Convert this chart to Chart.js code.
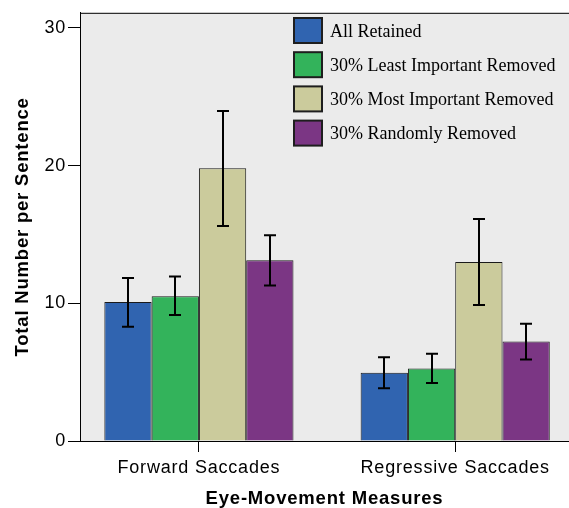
<!DOCTYPE html>
<html>
<head>
<meta charset="utf-8">
<script src="https://cdn.jsdelivr.net/npm/chart.js@4"></script>
<style>
  html, body { margin: 0; padding: 0; background: #fff; }
</style>
</head>
<body>
<canvas id="chart" width="569" height="508"></canvas>
<script>
// values
const categories = ["Forward Saccades", "Regressive Saccades"];
const seriesNames = ["All Retained", "30% Least Important Removed", "30% Most Important Removed", "30% Randomly Removed"];
const allRetained = [10.09, 4.96];
const leastRemoved = [10.52, 5.27];
const mostRemoved = [19.81, 13.0];
const randomRemoved = [13.12, 7.22];
// error bars: [low, high] per category
const allRetainedErr = [[8.30, 11.84], [3.83, 6.09]];
const leastRemovedErr = [[9.15, 11.94], [4.21, 6.33]];
const mostRemovedErr = [[15.62, 23.97], [9.87, 16.12]];
const randomRemovedErr = [[11.29, 14.95], [5.92, 8.52]];
const yTicks = [0, 10, 20, 30];
const colors = ["#3064b0", "#33b35b", "#cbcb9c", "#7b3684"];

const values = [allRetained, leastRemoved, mostRemoved, randomRemoved];
const errors = [allRetainedErr, leastRemovedErr, mostRemovedErr, randomRemovedErr];

Chart.defaults.font.family = "'Liberation Sans', Arial, sans-serif";
Chart.defaults.color = "#000";

const spacing = {
  id: "spacing",
  beforeLayout(chart) { chart.ctx.letterSpacing = "0.8px"; },
  beforeDraw(chart) { chart.ctx.letterSpacing = "0.8px"; }
};

const plotBg = {
  id: "plotBg",
  beforeDraw(chart) {
    const { ctx, chartArea: a } = chart;
    ctx.save();
    ctx.fillStyle = "#ebebeb";
    ctx.fillRect(a.left, a.top, a.right - a.left, a.bottom - a.top);
    ctx.restore();
  },
  afterDraw(chart) {
    const { ctx, chartArea: a } = chart;
    ctx.save();
    ctx.strokeStyle = "#000";
    ctx.lineWidth = 1;
    ctx.beginPath();
    ctx.moveTo(a.left, a.top + 0.5);
    ctx.lineTo(a.right, a.top + 0.5);
    ctx.stroke();
    ctx.restore();
  }
};

const errorBars = {
  id: "errorBars",
  afterDatasetsDraw(chart) {
    const { ctx } = chart;
    const y = chart.scales.y;
    ctx.save();
    ctx.strokeStyle = "#000";
    ctx.lineWidth = 2;
    chart.data.datasets.forEach((ds, i) => {
      chart.getDatasetMeta(i).data.forEach((bar, j) => {
        const [lo, hi] = errors[i][j];
        const x = Math.round(bar.x);
        const yl = y.getPixelForValue(lo), yh = y.getPixelForValue(hi);
        ctx.beginPath();
        ctx.moveTo(x, yl); ctx.lineTo(x, yh);
        ctx.moveTo(x - 6, yl); ctx.lineTo(x + 6, yl);
        ctx.moveTo(x - 6, yh); ctx.lineTo(x + 6, yh);
        ctx.stroke();
      });
    });
    ctx.restore();
  }
};

const legendBox = {
  id: "legendBox",
  afterDraw(chart) {
    const { ctx } = chart;
    ctx.save();
    ctx.letterSpacing = "0px";
    ctx.font = "18px 'Liberation Serif', 'Times New Roman', serif";
    ctx.textBaseline = "middle";
    chart.data.datasets.forEach((ds, i) => {
      const cy = 31 + 34.2 * i;
      ctx.fillStyle = ds.backgroundColor;
      ctx.fillRect(294, cy - 13, 28, 25);
      ctx.strokeStyle = "#1e1e1e";
      ctx.lineWidth = 2;
      ctx.strokeRect(294, cy - 13, 28, 25);
      ctx.fillStyle = "#000";
      ctx.fillText(ds.label, 330, cy + 1);
    });
    ctx.restore();
  }
};

new Chart(document.getElementById("chart"), {
  type: "bar",
  data: {
    datasets: seriesNames.map((name, i) => ({
      label: name,
      data: values[i].map((v, j) => ({ x: j + 1, y: v })),
      backgroundColor: colors[i],
      borderColor: "#1a1a1a",
      borderWidth: 1,
      categoryPercentage: 0.738,
      barPercentage: 1
    }))
  },
  options: {
    responsive: false,
    animation: false,
    layout: { padding: { top: 10, left: 0, right: 0, bottom: 0 } },
    plugins: { legend: { display: false }, tooltip: { enabled: false } },
    scales: {
      x: {
        type: "linear",
        min: 0.536,
        max: 2.444,
        offset: false,
        grid: { offset: false, drawOnChartArea: false, drawTicks: true, tickLength: 11, color: "#000" },
        border: { display: true, color: "#000", width: 1 },
        afterBuildTicks(scale) { scale.ticks = [{ value: 1 }, { value: 2 }]; },
        afterFit(scale) { scale.height = 67; },
        ticks: {
          font: { size: 18 },
          padding: 5,
          maxRotation: 0,
          callback: v => categories[v - 1]
        },
        title: {
          display: true,
          text: "Eye-Movement Measures",
          font: { size: 18.5, weight: "bold", lineHeight: 1 },
          padding: { top: 0, bottom: 0 }
        }
      },
      y: {
        min: 0,
        max: 31.1,
        grid: { drawOnChartArea: false, drawTicks: true, tickLength: 12, color: "#000" },
        border: { display: true, color: "#000", width: 1 },
        afterBuildTicks(scale) { scale.ticks = yTicks.map(v => ({ value: v })); },
        afterFit(scale) { scale.width = 80; },
        ticks: { font: { size: 18 }, padding: 2 },
        title: {
          display: true,
          text: "Total Number per Sentence",
          font: { size: 18.5, weight: "bold", lineHeight: 1 },
          padding: { top: 14, bottom: 0 }
        }
      }
    }
  },
  plugins: [spacing, plotBg, errorBars, legendBox]
});
</script>
</body>
</html>
